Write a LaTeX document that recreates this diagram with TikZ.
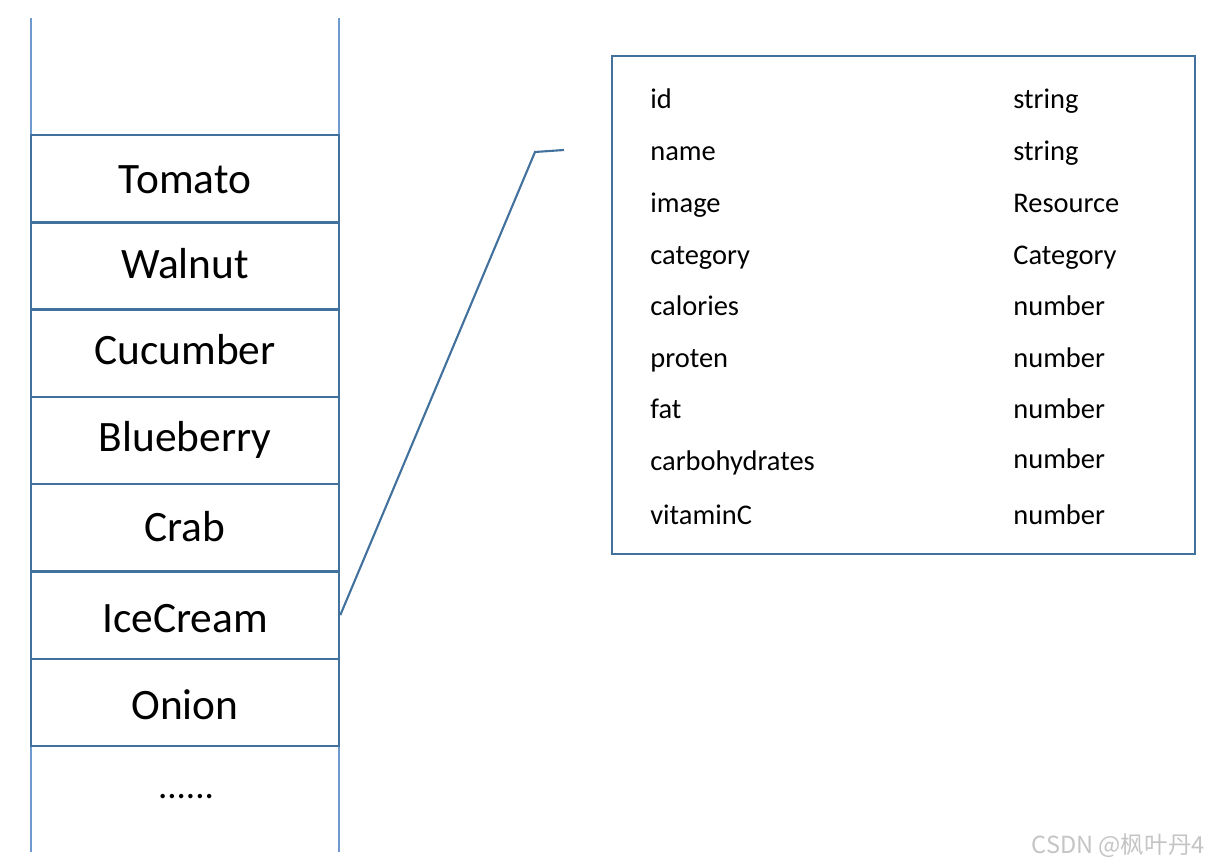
\documentclass[tikz,border=0pt]{standalone}
\usepackage{fontspec}
\setmainfont{Carlito}
\newfontfamily\cjkfont{Noto Sans CJK SC}
\usepackage{tikz}
\definecolor{boxblue}{HTML}{41719C}
\definecolor{railblue}{HTML}{6F9AD0}
\definecolor{markgray}{HTML}{C4C4C4}

\begin{document}
\begin{tikzpicture}[x=0.02cm,y=-0.02cm,
    foodbox/.style={draw=boxblue,line width=1.45pt,minimum width=308*0.02cm,minimum height=87.3*0.02cm,inner sep=0pt},
    foodname/.style={anchor=base,font=\fontsize{24.7}{30}\selectfont,inner sep=0pt},
    field/.style={anchor=base west,font=\fontsize{16.2}{19}\selectfont,inner sep=0pt}]
  \useasboundingbox (0,0) rectangle (1210,864);

  % the two rails of the list
  \draw[railblue,line width=0.6pt] (31,18) -- (31,852);
  \draw[railblue,line width=0.6pt] (339,18) -- (339,852);

  \node[foodbox] (tomato) at (185,178.65) {};
  \node[foodbox] (walnut) at (185,265.95) {};
  \node[foodbox] (cucumber) at (185,353.25) {};
  \node[foodbox] (blueberry) at (185,440.55) {};
  \node[foodbox] (crab) at (185,527.85) {};
  \node[foodbox] (icecream) at (185,615.15) {};
  \node[foodbox] (onion) at (185,702.45) {};

  \node[foodname] (ltomato) at (185,194) {Tomato};
  \node[foodname] (lwalnut) at (185,279) {Walnut};
  \node[foodname] (lcucumber) at (185,365) {Cucumber};
  \node[foodname] (lblueberry) at (185,452) {Blueberry};
  \node[foodname] (lcrab) at (185,541) {Crab};
  \node[foodname] (licecream) at (185,632) {IceCream};
  \node[foodname] (lonion) at (185,719) {Onion};
  \node[foodname,font=\fontsize{21}{25}\selectfont] (more) at (186,798) {......};

  % detail of one item
  \node[draw=boxblue,line width=1.45pt,minimum width=583*0.02cm,minimum height=498*0.02cm,inner sep=0pt] (detail) at (903.5,305) {};

  \node[field] (fid) at (650,109) {id};
  \node[field] (fname) at (650,161) {name};
  \node[field] (fimage) at (650,213) {image};
  \node[field] (fcategory) at (650,265) {category};
  \node[field] (fcalories) at (650,316) {calories};
  \node[field] (fproten) at (650,368) {proten};
  \node[field] (ffat) at (650,419) {fat};
  \node[field] (fcarbo) at (650,471) {carbohydrates};
  \node[field] (fvitc) at (650,524) {vitaminC};

  \node[field] (tid) at (1013,109) {string};
  \node[field] (tname) at (1013,161) {string};
  \node[field] (timage) at (1013,213) {Resource};
  \node[field] (tcategory) at (1013,265) {Category};
  \node[field] (tcalories) at (1013,316) {number};
  \node[field] (tproten) at (1013,368) {number};
  \node[field] (tfat) at (1013,419) {number};
  \node[field] (tcarbo) at (1013,469) {number};
  \node[field] (tvitc) at (1013,524) {number};

  \coordinate (bend) at (535,152);
  \coordinate (tip) at (564,150);
  \draw[boxblue,line width=1.2pt] (icecream.east) -- (bend) -- (tip);

  \node[anchor=base east,inner sep=0pt,text=markgray,font=\cjkfont\fontsize{13.4}{16}\selectfont] (mark) at (1205,853) {CSDN @枫叶丹4};
\end{tikzpicture}
\end{document}
